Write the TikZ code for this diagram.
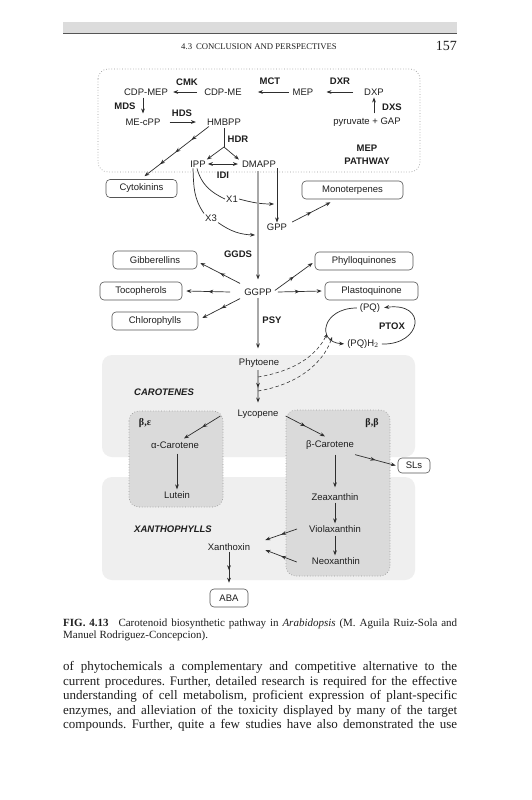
\documentclass[tikz,border=0pt]{standalone}
\usepackage{fontspec}
\setmainfont{Liberation Serif}
\setsansfont{Liberation Sans}
\usetikzlibrary{arrows.meta,decorations.markings}
\definecolor{txt}{HTML}{1E1E1E}
\definecolor{arrc}{HTML}{2E2E2E}
\definecolor{axisc}{HTML}{A8A8A8}
\definecolor{boxc}{HTML}{555555}
\definecolor{lightreg}{HTML}{EFEFEF}
\definecolor{darkreg}{HTML}{DADADA}
\definecolor{dotc}{HTML}{9A9A9A}
\definecolor{bandc}{HTML}{DCDCDC}
\definecolor{rulec}{HTML}{555555}
\frenchspacing
\tikzset{
 lbl/.style={font=\sffamily\fontsize{9.5}{11}\selectfont, text=txt, inner sep=1pt},
 enz/.style={lbl, font=\sffamily\bfseries\fontsize{9.5}{11}\selectfont},
 prod/.style={lbl, draw=boxc, fill=white, rounded corners=4pt, line width=0.6pt, minimum height=18pt},
 plain/.style={color=arrc, line width=0.7pt},
 arr/.style={color=arrc, line width=0.7pt, -{Stealth[length=5pt,width=3.8pt]}},
 dblarr/.style={color=arrc, line width=0.7pt, {Stealth[length=5pt,width=3.8pt]}-{Stealth[length=5pt,width=3.8pt]}},
 axisline/.style={color=axisc, line width=1.1pt},
 axisarr/.style={color=axisc, line width=1.1pt, -{Stealth[length=5pt,width=3.8pt,color=arrc]}},
 mid/.style={postaction={decorate}, decoration={markings, mark=at position #1 with {\arrow{Stealth[length=5pt,width=3.8pt,color=arrc]}}}},
 midthree/.style={postaction={decorate}, decoration={markings,
   mark=at position 0.27 with {\arrow{Stealth[length=5pt,width=3.8pt]}},
   mark=at position 0.52 with {\arrow{Stealth[length=5pt,width=3.8pt]}},
   mark=at position 0.76 with {\arrow{Stealth[length=5pt,width=3.8pt]}}}},
 dashedarr/.style={color=arrc, line width=0.55pt, dash pattern=on 3.5pt off 2.5pt, -{Stealth[length=4pt,width=3pt]}},
 greek/.style={font=\bfseries\fontsize{10}{12}\selectfont, text=txt, inner sep=1pt},
 region/.style={font=\sffamily\bfseries\itshape\fontsize{9.5}{11}\selectfont, text=txt, inner sep=0pt, anchor=west},
 bodyline/.style={anchor=base west, inner sep=0pt, font=\fontsize{13}{14.5}\selectfont, text=txt},
 capline/.style={anchor=base west, inner sep=0pt, font=\fontsize{11}{12.5}\selectfont, text=txt},
}
\begin{document}
\begin{tikzpicture}[x=1pt,y=-1pt]
\useasboundingbox (0,0) rectangle (531,800);
\fill[white] (0,0) rectangle (531,800);
% running head
\fill[bandc] (63,22) rectangle (457,33);
\draw[rulec, line width=1.2pt] (63,33.4) -- (457,33.4);
\node[anchor=base, inner sep=0pt, text=txt, font=\fontsize{8.7}{10}\selectfont] (head) at (259,49) {4.3\hspace{4pt}CONCLUSION AND PERSPECTIVES};
\node[anchor=base east, inner sep=0pt, text=txt, font=\fontsize{14}{16}\selectfont] (pagenum) at (457,51) {157};
% regions
\draw[dotc, dotted, line width=0.7pt, rounded corners=10pt] (98,69) rectangle (420,172);
\fill[lightreg, rounded corners=10pt] (102,355) rectangle (415,457);
\fill[lightreg, rounded corners=10pt] (102,477) rectangle (415,580);
\draw[dotc, dotted, fill=darkreg, line width=0.7pt, rounded corners=10pt] (129,411) rectangle (223,507);
\draw[dotc, dotted, fill=darkreg, line width=0.7pt, rounded corners=10pt] (286,410) rectangle (390,576);
% MEP pathway
\node[enz] (cmk) at (187,82) {CMK};
\node[enz] (mct) at (270,81) {MCT};
\node[enz] (dxr) at (340,81) {DXR};
\node[lbl] (cdpmep) at (146,92) {CDP-MEP};
\node[lbl] (cdpme) at (223,92) {CDP-ME};
\node[lbl] (mep) at (303,92) {MEP};
\node[lbl] (dxp) at (374,92) {DXP};
\node[enz] (mds) at (125,106) {MDS};
\node[lbl] (mecpp) at (143,122) {ME-cPP};
\node[enz] (hds) at (182,113) {HDS};
\node[lbl] (hmbpp) at (224,122) {HMBPP};
\node[enz] (dxs) at (392,107) {DXS};
\node[lbl] (pyr) at (367,122) {pyruvate + GAP};
\node[enz] (hdr) at (238,139) {HDR};
\node[lbl] (ipp) at (198,164) {IPP};
\node[lbl] (dmapp) at (259,164) {DMAPP};
\node[enz] (idi) at (223,175) {IDI};
\node[enz, align=center, font=\sffamily\bfseries\fontsize{9.5}{13}\selectfont] (mepp) at (367,154.5) {MEP\\PATHWAY};
\coordinate (split) at (224,147);
\draw[arr, shorten <=10pt, shorten >=12pt] (dxp.west) -- (mep.east);
\draw[arr, shorten <=3pt, shorten >=15pt] (mep.west) -- (cdpme.east);
\draw[arr, shorten <=6pt, shorten >=4pt] (cdpme.west) -- (cdpmep.east);
\draw[arr, shorten <=1pt, shorten >=4pt] (mecpp.north |- cdpmep.south) -- (mecpp.north);
\draw[arr, shorten <=8pt, shorten >=10pt] (mecpp.east) -- (hmbpp.west);
\draw[arr, shorten <=3pt, shorten >=1pt] (dxp.south |- pyr.north) -- (dxp.south);
\draw[plain, shorten <=2pt] (hmbpp.south) -- (split);
\draw[arr] (split) -- (ipp.north east);
\draw[arr] (split) -- ([xshift=-2pt]dmapp.north west);
\draw[dblarr, shorten <=1pt, shorten >=3pt] (ipp.east) -- (dmapp.west);
% products near top
\node[prod, minimum width=71pt] (cyto) at (141.5,188.5) {Cytokinins};
\node[prod, minimum width=101pt] (mono) at (352.5,190) {Monoterpenes};
\draw[arr, midthree] ([xshift=3pt]hmbpp.south west) -- ([xshift=3pt,yshift=3pt]cyto.north);
\node[lbl] (gpp) at (277,227) {GPP};
\node[lbl, fill=white] (x1) at (232,199) {X1};
\node[lbl, fill=white] (x3) at (211,218) {X3};
\coordinate (j1) at (274,204);
\coordinate (j3) at (255,235);
\coordinate (axtop) at (258,171);
\draw[arr] (gpp.north |- dmapp.south) -- (gpp.north);
\draw[plain] ([xshift=-1pt]ipp.south) to[out=-75, in=155] (x1.west);
\draw[arr] (x1.east) to[out=-15, in=180] (j1);
\draw[plain] ([xshift=-5pt]ipp.south) to[out=-88, in=125] (x3.north west);
\draw[arr] (x3.south east) to[out=-35, in=178] (j3);
\draw[arr, mid=0.5] ([xshift=4pt,yshift=5pt]gpp.east) -- ([xshift=-22pt,yshift=-3pt]mono.south);
% GGPP level
\node[enz] (ggds) at (238,254) {GGDS};
\node[lbl] (ggpp) at (258,292) {GGPP};
\draw[axisarr, shorten >=8pt] (axtop) -- (ggpp.north);
\node[prod, minimum width=84pt] (gibb) at (155,260) {Gibberellins};
\node[prod, minimum width=98pt] (phyllo) at (364,261) {Phylloquinones};
\node[prod, minimum width=82pt] (toco) at (141,291) {Tocopherols};
\node[prod, minimum width=93pt] (plasto) at (371.5,291) {Plastoquinone};
\node[prod, minimum width=86pt] (chloro) at (155,321) {Chlorophylls};
\draw[arr, mid=0.5] ([xshift=-3pt,yshift=4pt]ggpp.north west) -- ([xshift=3pt,yshift=-3pt]gibb.east);
\draw[arr, mid=0.5] ([xshift=-13pt]ggpp.west) -- ([xshift=4pt]toco.east);
\draw[arr, mid=0.5] ([xshift=-3pt,yshift=-2pt]ggpp.south west) -- ([xshift=4pt,yshift=3pt]chloro.east);
\draw[arr, mid=0.5] ([xshift=2pt,yshift=-3pt]ggpp.north east) -- ([xshift=-2pt,yshift=-2pt]phyllo.west);
\draw[arr, mid=0.5] ([xshift=5pt]ggpp.east) -- ([xshift=-3pt]plasto.west);
\node[enz] (psy) at (272,320) {PSY};
% PQ cycle
\node[lbl] (pq) at (370,308) {(PQ)};
\node[enz] (ptox) at (392,326) {PTOX};
\node[lbl] (pqh) at (363,344) {(PQ)H$_2$};
\draw[arr, shorten <=2pt, shorten >=3pt] (pqh.east) .. controls (422,345) and (428,302) .. (pq.east);
\draw[arr, shorten <=2pt, shorten >=2pt] (pq.west) .. controls (322,308) and (316,342) .. (pqh.west);
% carotenes
\node[lbl] (phyt) at (259,363) {Phytoene};
\node[lbl] (lyco) at (258,414) {Lycopene};
\draw[axisarr, shorten <=1pt, shorten >=9pt] (ggpp.south) -- (ggpp.south |- phyt.north);
\draw[axisarr, mid=0.48, shorten <=1pt, shorten >=6pt] (ggpp.south |- phyt.south) -- (ggpp.south |- lyco.north);
\coordinate (d1s) at (258,377);
\coordinate (d2s) at (258,391);
\coordinate (d1e) at (327,334);
\coordinate (d2e) at (332,337);
\draw[dashedarr] (d1s) .. controls (300,370) and (318,352) .. (d1e);
\draw[dashedarr] (d2s) .. controls (306,383) and (326,356) .. (d2e);
\node[region] (carlab) at (134,392) {CAROTENES};
\node[greek] (be) at (145,423) {β,ε};
\node[greek] (bb) at (372,423) {β,β};
\node[lbl] (acar) at (175,445) {α-Carotene};
\node[lbl] (bcar) at (330,445) {β-Carotene};
\node[prod, minimum width=32pt, minimum height=15pt] (sls) at (414,465.5) {SLs};
\draw[arr, mid=0.5] ([xshift=-16pt,yshift=-2pt]lyco.west) -- ([xshift=9pt,yshift=2pt]acar.north);
\draw[arr, mid=0.5] ([xshift=6pt,yshift=-2pt]lyco.east) -- ([xshift=-5pt,yshift=3pt]bcar.north);
\draw[arr, mid=0.5] ([yshift=-4pt]bcar.south east) -- ([xshift=-2pt]sls.west);
% xanthophylls
\node[lbl] (lut) at (177,495) {Lutein};
\node[lbl] (zea) at (335,497) {Zeaxanthin};
\node[lbl] (viola) at (335,529) {Violaxanthin};
\node[lbl] (neo) at (336,561) {Neoxanthin};
\node[lbl] (xanth) at (229,547) {Xanthoxin};
\node[region] (xanlab) at (134,529) {XANTHOPHYLLS};
\node[prod, minimum width=38pt] (aba) at (229,598) {ABA};
\draw[arr, shorten <=4pt, shorten >=1pt] (lut.north |- acar.south) -- (lut.north);
\draw[arr, shorten <=4pt, shorten >=5pt] (zea.north |- bcar.south) -- (zea.north);
\draw[arr, shorten <=1pt, shorten >=1pt] (zea.south) -- (zea.south |- viola.north);
\draw[arr, shorten <=2pt, shorten >=1pt] (viola.south) -- (viola.south |- neo.north);
\draw[arr, mid=0.5] ([xshift=-11pt]viola.west) -- ([xshift=14pt,yshift=7pt]xanth.east);
\draw[arr, mid=0.5] ([xshift=-14pt,yshift=-1pt]neo.west) -- ([xshift=14pt,yshift=-3pt]xanth.east);
\draw[arr, mid=0.5, shorten >=6pt] (xanth.south) -- (aba.north);
% caption
\node[capline] (cap1) at (63,626) {\makebox[394pt][s]{\textbf{FIG. 4.13}\hspace{6pt} Carotenoid biosynthetic pathway in \textit{Arabidopsis} (M. Aguila Ruiz-Sola and}};
\node[capline] (cap2) at (63,638.5) {Manuel Rodriguez-Concepcion).};
% body text
\node[bodyline] (b1) at (63,670.5) {\makebox[394pt][s]{of phytochemicals a complementary and competitive alternative to the}};
\node[bodyline] (b2) at (63,685) {\makebox[394pt][s]{current procedures. Further, detailed research is required for the effective}};
\node[bodyline] (b3) at (63,699.5) {\makebox[394pt][s]{understanding of cell metabolism, proficient expression of plant-specific}};
\node[bodyline] (b4) at (63,714) {\makebox[394pt][s]{enzymes, and alleviation of the toxicity displayed by many of the target}};
\node[bodyline] (b5) at (63,728.5) {\makebox[394pt][s]{compounds. Further, quite a few studies have also demonstrated the use}};
\end{tikzpicture}
\end{document}
